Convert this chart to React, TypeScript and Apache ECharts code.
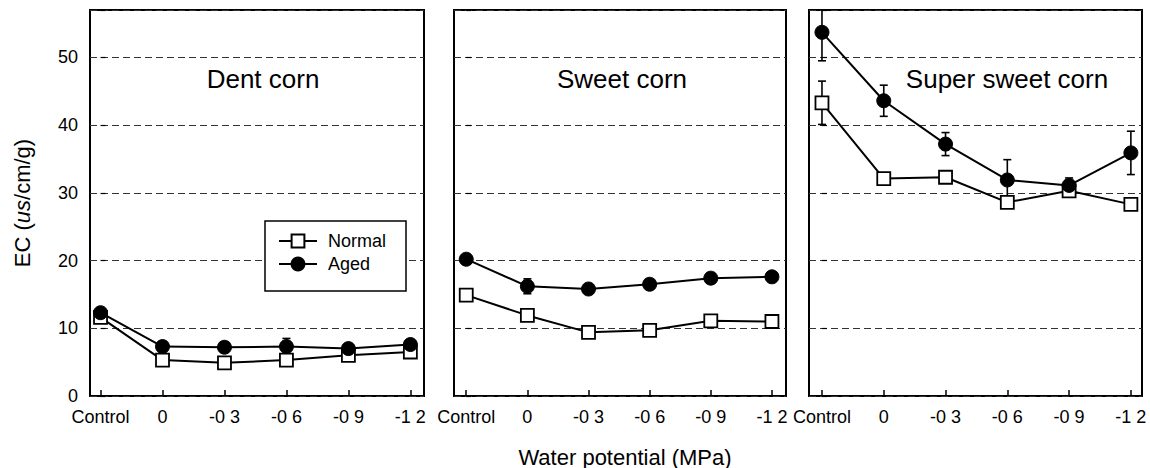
import React, { useEffect, useRef } from 'react';
import * as echarts from 'echarts';

const categories = ['Control', '0', '-0 3', '-0 6', '-0 9', '-1 2'];
const panelTitles = ['Dent corn', 'Sweet corn', 'Super sweet corn'];
const seriesNames = ['Normal', 'Aged'];

const dentNormal = [11.6, 5.3, 4.9, 5.3, 6.0, 6.5];
const dentAged = [12.3, 7.3, 7.2, 7.3, 7.0, 7.6];
const sweetNormal = [14.9, 11.9, 9.4, 9.7, 11.1, 11.0];
const sweetAged = [20.2, 16.2, 15.8, 16.5, 17.4, 17.6];
const superNormal = [43.3, 32.1, 32.3, 28.6, 30.3, 28.3];
const superAged = [53.7, 43.6, 37.2, 31.9, 31.1, 35.9];

const dentNormalErr = [0.5, 0.4, 0.3, 0.3, 0.4, 0.4];
const dentAgedErr = [0.5, 0.6, 0.3, 1.2, 0.4, 0.4];
const sweetNormalErr = [0.9, 0.5, 0.4, 0.4, 0.4, 0.4];
const sweetAgedErr = [0.4, 1.1, 0.4, 0.7, 0.4, 0.4];
const superNormalErr = [3.2, 0.6, 0.8, 0.8, 0.5, 0.4];
const superAgedErr = [4.2, 2.3, 1.7, 3.0, 1.1, 3.2];

const FONT = '"Liberation Sans", Arial, sans-serif';

export default function App() {
  const ref = useRef<HTMLDivElement>(null);
  useEffect(() => {
    document.body.style.margin = '0';
    if (!ref.current) return;
    const chart = echarts.init(ref.current, null, { renderer: 'svg' });

    const panels = [
      { normal: dentNormal, aged: dentAged, nErr: dentNormalErr, aErr: dentAgedErr },
      { normal: sweetNormal, aged: sweetAged, nErr: sweetNormalErr, aErr: sweetAgedErr },
      { normal: superNormal, aged: superAged, nErr: superNormalErr, aErr: superAgedErr },
    ];
    const grids = [
      { left: 90, top: 10, width: 334, height: 386 },
      { left: 454, top: 10, width: 332, height: 386 },
      { left: 809, top: 10, width: 333, height: 386 },
    ];
    const xRanges = [
      [-0.17, 5.22],
      [-0.2, 5.23],
      [-0.21, 5.18],
    ];
    const titleCenters = [258, 617, 1002];

    const xAxis: any[] = [];
    const yAxis: any[] = [];
    const series: any[] = [];

    const errRender = (params: any, api: any) => {
      const x = api.value(0);
      const lo = api.value(1);
      const hi = api.value(2);
      const t = api.coord([x, hi]);
      const b = api.coord([x, lo]);
      const w = 4;
      const st = { stroke: '#000', lineWidth: 1.6 };
      return {
        type: 'group',
        children: [
          { type: 'line', shape: { x1: t[0], y1: t[1], x2: b[0], y2: b[1] }, style: st },
          { type: 'line', shape: { x1: t[0] - w, y1: t[1], x2: t[0] + w, y2: t[1] }, style: st },
          { type: 'line', shape: { x1: b[0] - w, y1: b[1], x2: b[0] + w, y2: b[1] }, style: st },
        ],
      };
    };

    panels.forEach((p, i) => {
      xAxis.push({
        type: 'value',
        gridIndex: i,
        min: xRanges[i][0],
        max: xRanges[i][1],
        axisLine: { show: false },
        splitLine: { show: false },
        axisTick: {
          inside: true,
          length: 6,
          customValues: categories.map((_, k) => k),
          lineStyle: { color: '#000', width: 1.5 },
        },
        axisLabel: {
          customValues: categories.map((_, k) => k),
          formatter: (v: number) => categories[Math.round(v)] ?? '',
          color: '#000',
          fontSize: 18,
          fontFamily: FONT,
          margin: 12,
        },
      });
      yAxis.push({
        type: 'value',
        gridIndex: i,
        min: 0,
        max: 57,
        interval: 10,
        axisLine: { show: false },
        axisTick: { show: true, inside: true, length: 5, lineStyle: { color: '#000', width: 1.2 } },
        axisLabel: {
          show: i === 0,
          formatter: (v: number) => (v % 10 === 0 ? String(v) : ''),
          color: '#000',
          fontSize: 18,
          fontFamily: FONT,
          margin: 12,
        },
        splitLine: {
          show: true,
          lineStyle: { color: '#333', width: 1, type: [7, 4] },
        },
        name: i === 0 ? 'EC ({i|us}/cm/g)' : '',
        nameLocation: 'middle',
        nameGap: 57,
        nameRotate: 90,
        nameTextStyle: {
          color: '#000',
          fontSize: 22,
          fontFamily: FONT,
          rich: { i: { fontStyle: 'italic', fontSize: 22, fontFamily: FONT, color: '#000' } },
        },
      });

      const errData = (vals: number[], errs: number[]) =>
        vals.map((v, k) => [k, v - errs[k], v + errs[k]]);

      series.push({
        type: 'custom',
        xAxisIndex: i,
        yAxisIndex: i,
        renderItem: errRender,
        data: errData(p.normal, p.nErr),
        encode: { x: 0, y: [1, 2] },
        clip: true,
        z: 1,
        silent: true,
      });
      series.push({
        type: 'custom',
        xAxisIndex: i,
        yAxisIndex: i,
        renderItem: errRender,
        data: errData(p.aged, p.aErr),
        encode: { x: 0, y: [1, 2] },
        clip: true,
        z: 1,
        silent: true,
      });
      series.push({
        name: seriesNames[0],
        type: 'line',
        xAxisIndex: i,
        yAxisIndex: i,
        data: p.normal.map((v, k) => [k, v]),
        symbol: 'rect',
        symbolSize: 13,
        showAllSymbol: true,
        lineStyle: { color: '#000', width: 2 },
        itemStyle: { color: '#fff', borderColor: '#000', borderWidth: 1.8 },
        z: 3,
      });
      series.push({
        name: seriesNames[1],
        type: 'line',
        xAxisIndex: i,
        yAxisIndex: i,
        data: p.aged.map((v, k) => [k, v]),
        symbol: 'circle',
        symbolSize: 14,
        showAllSymbol: true,
        lineStyle: { color: '#000', width: 2 },
        itemStyle: { color: '#000', borderColor: '#000', borderWidth: 1 },
        z: 4,
      });
    });

    chart.setOption({
      animation: false,
      backgroundColor: '#fff',
      grid: grids.map((g) => ({
        ...g,
        show: true,
        borderColor: '#000',
        borderWidth: 2,
        backgroundColor: 'transparent',
      })),
      title: panelTitles.map((t, i) => ({
        text: t,
        left: titleCenters[i],
        top: 61,
        textAlign: 'center',
        textStyle: { fontSize: 26, fontWeight: 'normal', color: '#000', fontFamily: FONT },
      })),
      legend: {
        data: seriesNames,
        orient: 'vertical',
        left: 265,
        top: 221,
        padding: [11, 20, 18, 13],
        itemWidth: 38,
        itemHeight: 16,
        itemGap: 5,
        borderColor: '#000',
        borderWidth: 1.5,
        backgroundColor: '#fff',
        textStyle: { fontSize: 18, color: '#000', fontFamily: FONT, padding: [0, 0, 0, 6] },
        selectedMode: false,
      },
      graphic: [
        {
          type: 'text',
          x: 625,
          y: 457,
          style: {
            text: 'Water potential (MPa)',
            fontSize: 22,
            fontFamily: FONT,
            fill: '#000',
            textAlign: 'center',
            textVerticalAlign: 'middle',
          },
        },
      ],
      xAxis,
      yAxis,
      series,
    });

    return () => chart.dispose();
  }, []);

  return <div ref={ref} style={{ width: 1150, height: 468 }} />;
}
